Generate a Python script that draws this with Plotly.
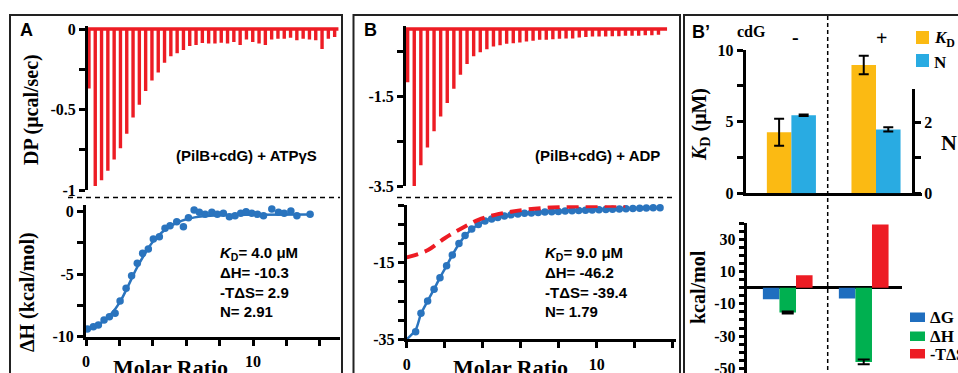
import plotly.graph_objects as go

W, H = 958, 373
def px(x): return x / W
def py(y): return 1 - y / H

SERIF = "Liberation Serif"
SANS = "Liberation Sans"
RED = "#ED1C24"
BLUE = "#2A74BE"
GOLD = "#FBBA13"
LBLUE = "#29ABE2"
DGBLUE = "#1F6EBF"
GREEN = "#00B050"

# ---------------- data ----------------
# Panel A thermogram: peak depths (µcal/sec) per injection
a_peaks = [0.37, 0.975, 0.94, 0.88, 0.81, 0.74, 0.65, 0.55, 0.47, 0.385,
           0.32, 0.27, 0.21, 0.17, 0.15, 0.13, 0.105, 0.10, 0.087, 0.09,
           0.09, 0.085, 0.09, 0.08, 0.10, 0.065, 0.08, 0.09, 0.10, 0.065,
           0.06, 0.06, 0.055, 0.07, 0.06, 0.065, 0.07, 0.125, 0.06, 0.05]
# Panel B thermogram
b_peaks = [1.19, 3.5, 3.04, 2.64, 2.28, 1.95, 1.65, 1.33, 1.02, 0.78,
           0.61, 0.52, 0.45, 0.39, 0.36, 0.33, 0.32, 0.30, 0.28, 0.26,
           0.24, 0.24, 0.23, 0.22, 0.21, 0.21, 0.19, 0.18, 0.17, 0.17,
           0.17, 0.16, 0.16, 0.15, 0.15, 0.15, 0.14, 0.14, 0.13]

# Panel A integrated heats
a_ratio = [0.08, 0.44, 0.74, 1.08, 1.40, 1.74, 2.04, 2.40, 2.73, 3.07,
           3.39, 3.73, 4.03, 4.39, 4.73, 5.03, 5.43, 5.83, 6.13, 6.47,
           6.78, 7.13, 7.53, 7.86, 8.22, 8.58, 8.92, 9.26, 9.58, 9.92,
           10.26, 10.62, 11.12, 11.52, 11.86, 12.26, 12.62, 13.41]
a_dh = [-9.38, -9.2, -9.06, -8.66, -8.4, -8.13, -7.14, -6.13, -5.12, -4.13,
        -3.33, -2.98, -2.18, -2.0, -1.33, -1.12, -0.8, -1.2, -0.48, 0.14,
        -0.05, -0.21, -0.05, -0.21, -0.13, -0.4, -0.32, -0.13, 0.0, -0.13,
        -0.21, -0.32, 0.22, -0.05, -0.13, 0.06, -0.32, -0.21]
a_fit_x = [0, 0.5, 1.0, 1.5, 2.0, 2.5, 3.0, 3.5, 4.0, 4.5, 5.0, 5.5, 6.0, 6.5, 7.0, 8.0, 10.0, 13.4]
a_fit_y = [-9.45, -9.2, -8.8, -8.2, -7.3, -6.0, -4.6, -3.4, -2.4, -1.7, -1.2, -0.85, -0.6, -0.45, -0.36, -0.28, -0.24, -0.22]

# Panel B integrated heats
b_ratio = [0.47, 0.75, 1.10, 1.44, 1.75, 2.10, 2.40, 2.75, 3.07, 3.42,
           3.77, 4.12, 4.47, 4.79, 5.14, 5.49, 5.85, 6.20, 6.56, 6.92,
           7.27, 7.63, 7.98, 8.34, 8.70, 9.05, 9.41, 9.76, 10.12, 10.48,
           10.83, 11.19, 11.54, 11.90, 12.26, 12.61, 12.97, 13.33]
b_dh = [-33.0, -28.2, -25.0, -21.9, -18.9, -15.8, -13.0, -10.0, -7.9, -6.2,
        -5.0, -4.1, -3.6, -3.2, -2.8, -2.5, -2.27, -2.1, -2.0, -1.9,
        -1.75, -1.66, -1.6, -1.5, -1.45, -1.35, -1.28, -1.23, -1.15, -1.1,
        -1.02, -0.97, -0.9, -0.83, -0.79, -0.72, -0.66, -0.62]
b_fit_x = [0, 0.47, 0.75, 1.1, 1.44, 1.75, 2.1, 2.4, 2.75, 3.07, 3.42, 3.77, 4.12, 4.47, 5.0, 6.0, 8.0, 10.0, 12.0, 13.33]
b_fit_y = [-35, -32.5, -28.4, -25, -21.9, -18.9, -15.8, -13, -10.1, -8, -6.3, -5.0, -4.1, -3.5, -2.9, -2.2, -1.5, -1.05, -0.8, -0.62]
ctrl_x = [0, 0.44, 1.12, 2.0, 2.9, 3.77, 4.65, 5.5, 6.4, 7.45, 8.5, 9.5, 10.5, 11.5]
ctrl_y = [-13.6, -13.0, -11.7, -8.6, -6.0, -3.8, -2.5, -1.66, -1.05, -0.6, -0.35, -0.22, -0.15, -0.1]

# Panel B' bars
cdg = ["-", "+"]
kd = [4.26, 8.95]
kd_err = [0.95, 0.65]
n_val = [2.2, 1.80]
n_err = [0.02, 0.06]
dG = [-7.1, -6.7]
dH = [-15.4, -46.0]
dH_err = [0.6, 1.5]
mTdS = [7.7, 39.3]

a_text = ["<i>K</i><sub>D</sub>= 4.0 μM", "ΔH= -10.3", "-TΔS= 2.9", "N= 2.91"]
b_text = ["<i>K</i><sub>D</sub>= 9.0 μM", "ΔH= -46.2", "-TΔS= -39.4", "N= 1.79"]

# ------------- helpers -------------
def thermo(peaks, tail):
    xs, ys = [0.0], [0.0]
    for i, d in enumerate(peaks):
        x = i + 1
        xs += [x, x, x]
        ys += [0.0, -d, 0.0]
    xs.append(len(peaks) + tail)
    ys.append(0.0)
    return xs, ys

fig = go.Figure()

ax, ay = thermo(a_peaks, 0.6)
fig.add_trace(go.Scatter(x=ax, y=ay, mode="lines", line=dict(color=RED, width=3.4),
                         xaxis="x", yaxis="y", showlegend=False))
bx, by = thermo(b_peaks, 1.3)
fig.add_trace(go.Scatter(x=bx, y=by, mode="lines", line=dict(color=RED, width=3.4),
                         xaxis="x3", yaxis="y3", showlegend=False))

fig.add_trace(go.Scatter(x=a_fit_x, y=a_fit_y, mode="lines", line=dict(color=BLUE, width=2.5, shape="spline"),
                         xaxis="x2", yaxis="y2", showlegend=False))
fig.add_trace(go.Scatter(x=a_ratio, y=a_dh, mode="markers", marker=dict(color=BLUE, size=7.5),
                         xaxis="x2", yaxis="y2", showlegend=False, cliponaxis=False))

fig.add_trace(go.Scatter(x=b_fit_x, y=b_fit_y, mode="lines", line=dict(color=BLUE, width=2.5, shape="spline"),
                         xaxis="x4", yaxis="y4", showlegend=False))
fig.add_trace(go.Scatter(x=b_ratio, y=b_dh, mode="markers", marker=dict(color=BLUE, size=7.5),
                         xaxis="x4", yaxis="y4", showlegend=False, cliponaxis=False))
fig.add_trace(go.Scatter(x=ctrl_x, y=ctrl_y, mode="lines",
                         line=dict(color=RED, width=4, dash="12px,7px", shape="spline"),
                         xaxis="x4", yaxis="y4", showlegend=False))

# B' upper bars
bw = 0.29
fig.add_trace(go.Bar(x=cdg, y=kd, width=bw, offset=-bw, marker=dict(color=GOLD, line=dict(width=0)),
                     error_y=dict(type="data", array=kd_err, color="black", thickness=2, width=5),
                     xaxis="x5", yaxis="y5", showlegend=False))
fig.add_trace(go.Bar(x=cdg, y=n_val, width=bw, offset=0, marker=dict(color=LBLUE, line=dict(width=0)),
                     error_y=dict(type="data", array=n_err, color="black", thickness=2, width=5),
                     xaxis="x5", yaxis="y6", showlegend=False))

# B' lower bars
lw = 0.218
fig.add_trace(go.Bar(x=cdg, y=dG, width=lw, offset=-1.5 * lw, marker=dict(color=DGBLUE, line=dict(width=0)),
                     xaxis="x6", yaxis="y7", showlegend=False))
fig.add_trace(go.Bar(x=cdg, y=dH, width=lw, offset=-0.5 * lw, marker=dict(color=GREEN, line=dict(width=0)),
                     error_y=dict(type="data", array=dH_err, color="black", thickness=2, width=6),
                     xaxis="x6", yaxis="y7", showlegend=False))
fig.add_trace(go.Bar(x=cdg, y=mTdS, width=lw, offset=0.5 * lw, marker=dict(color=RED, line=dict(width=0)),
                     xaxis="x6", yaxis="y7", showlegend=False))

tickf = dict(family=SERIF, size=16, color="black", weight="bold")
yax = dict(showline=True, linewidth=3, linecolor="black", ticks="outside", ticklen=6, tickwidth=2.5,
           tickcolor="black", showgrid=False, zeroline=False, tickfont=tickf, automargin=False,
           ticklabeloverflow="allow")
xax = dict(showline=True, linewidth=3, linecolor="black", ticks="outside", ticklen=6, tickwidth=2.5,
           tickcolor="black", showgrid=False, zeroline=False, tickfont=tickf, ticklabelstandoff=2,
           automargin=False, ticklabeloverflow="allow")

fig.update_layout(
    template="none",
    width=W, height=H, margin=dict(l=0, r=0, t=0, b=0, pad=0), autosize=False,
    paper_bgcolor="white", plot_bgcolor="rgba(0,0,0,0)", barmode="overlay",
    xaxis=dict(domain=[px(88), px(340)], range=[0.85, 40.85], visible=False, anchor="y", automargin=False),
    yaxis=dict(**yax, domain=[py(190), py(26)], range=[-1, 3 / 161], anchor="x",
               tickvals=[0, -0.25, -0.5, -0.75, -1], ticktext=["0", "", "-0.5", "", "-1"]),
    xaxis2=dict(**xax, domain=[px(86), px(340)], range=[0, 15.2], anchor="y2",
                tickvals=[0, 2, 4, 6, 8, 10, 12, 14], ticktext=["0", "", "", "", "", "10", "", ""]),
    yaxis2=dict(**yax, domain=[py(336.7), py(205)], range=[-10, 0.54], anchor="x2",
                tickvals=[0, -2.5, -5, -7.5, -10], ticktext=["0", "", "-5", "", "-10"]),
    xaxis3=dict(domain=[px(406), px(672)], range=[0.75, 41.05], visible=False, anchor="y3", automargin=False),
    yaxis3=dict(**yax, domain=[py(186), py(26)], range=[-3.5, 3 / 45], anchor="x3",
                tickvals=[-0.5, -1.5, -2.5, -3.5], ticktext=["", "-1.5", "", "-3.5"]),
    xaxis4=dict(**xax, domain=[px(406.7), px(676)], range=[0, 14.17], anchor="y4",
                tickvals=[0, 2, 4, 6, 8, 10, 12, 14], ticktext=["0", "", "", "", "", "10", "", ""]),
    yaxis4=dict(**yax, domain=[py(339.3), py(205.3)], range=[-35, 0], anchor="x4",
                tickvals=[0, -5, -10, -15, -20, -25, -30, -35],
                ticktext=["", "", "", "-15", "", "", "", "-35"]),
    xaxis5=dict(domain=[px(745.7), px(921.7)], range=[-0.54, 1.54], anchor="y5", type="category",
                categoryorder="array", categoryarray=cdg, showline=True, linewidth=3, linecolor="black",
                ticks="", showticklabels=False, showgrid=False, zeroline=False, automargin=False),
    yaxis5=dict(**yax, domain=[py(193.3), py(50)], range=[0, 10], anchor="x5",
                tickvals=[0, 2.5, 5, 7.5, 10], ticktext=["0", "", "5", "", "10"]),
    yaxis6=dict(**yax, domain=[py(193.3), py(89.3)], range=[0, 2.93], anchor="free",
                position=px(913), side="right",
                tickvals=[0, 1, 2], ticktext=["0", "", "2"]),
    xaxis6=dict(domain=[px(746.7), px(901.7)], range=[-0.54, 1.5], anchor="y7", type="category",
                categoryorder="array", categoryarray=cdg, visible=False, automargin=False),
    yaxis7=dict(showline=True, linewidth=3, linecolor="black", ticks="outside", ticklen=5, tickwidth=2.5,
                tickcolor="black", showgrid=False, tickfont=tickf, automargin=False,
                ticklabeloverflow="allow",
                zeroline=True, zerolinewidth=3, zerolinecolor="black",
                domain=[0, py(223.3)], range=[-52.9, 40], anchor="x6",
                tickvals=list(range(-50, 41, 5)),
                ticktext=[str(v) if v in (30, 10, -10, -30, -50) else "" for v in range(-50, 41, 5)]),
)

shapes = []
# panel borders
for x0, x1 in [(10, 342), (353.5, 680), (684, 962)]:
    shapes.append(dict(type="rect", xref="paper", yref="paper", x0=px(x0), x1=px(x1), y0=py(15), y1=py(390),
                       line=dict(color="#222", width=2), layer="below"))
# dashed separators
shapes.append(dict(type="line", xref="paper", yref="paper", x0=px(68), x1=px(340), y0=py(197.5), y1=py(197.5),
                   line=dict(color="black", width=1.5, dash="5px,4px")))
shapes.append(dict(type="line", xref="paper", yref="paper", x0=px(397), x1=px(672), y0=py(197.5), y1=py(197.5),
                   line=dict(color="black", width=1.5, dash="5px,4px")))
shapes.append(dict(type="line", xref="paper", yref="paper", x0=px(827.7), x1=px(827.7), y0=py(16), y1=0,
                   line=dict(color="black", width=1.5, dash="4px,3px")))
# legend swatches
for (x0, x1, y0, y1, c) in [(916, 929, 31, 44, GOLD), (916, 929, 54, 67, LBLUE),
                             (910, 925, 312.5, 322, DGBLUE), (910, 925, 331.5, 341, GREEN),
                             (910, 925, 349, 358.5, RED)]:
    shapes.append(dict(type="rect", xref="paper", yref="paper", x0=px(x0), x1=px(x1), y0=py(y1), y1=py(y0),
                       fillcolor=c, line=dict(width=0)))
fig.update_layout(shapes=shapes)

anns = []
def ann(text, x, y, size, family=SERIF, xa="center", ya="middle", angle=0, weight="bold"):
    anns.append(dict(text=text, x=px(x), y=py(y), xref="paper", yref="paper", showarrow=False,
                     xanchor=xa, yanchor=ya, textangle=angle,
                     font=dict(family=family, size=size, color="black", weight=weight)))

ann("A", 18, 30, 18, SANS, xa="left")
ann("B", 362, 30, 18, SANS, xa="left")
ann("B’", 690, 32, 18, SANS, xa="left")
ann("cdG", 751, 31, 16)
ann("-", 795, 37, 20)
ann("+", 881, 38, 20)
ann("(PilB+cdG) + ATPγS", 246, 155, 15, SANS)
ann("(PilB+cdG) + ADP", 597, 155, 15, SANS)
for i, t in enumerate(a_text):
    ann(t, 218, 253 + i * 19.6, 15, SANS, xa="left")
for i, t in enumerate(b_text):
    ann(t, 543, 253 + i * 19.6, 15, SANS, xa="left")
ann("DP (μcal/sec)", 32, 109, 20, angle=-90)
ann("ΔH (kcal/mol)", 27, 292, 20, angle=-90)
ann("Molar Ratio", 170, 367, 22)
ann("Molar Ratio", 511, 367, 22)
ann("<i>K</i><sub>D</sub> (μM)", 700, 125, 20, angle=-90)
ann("N", 949, 142, 22, xa="center")
ann("kcal/mol", 698, 287, 20, angle=-90)
ann("<i>K</i><sub>D</sub>", 932, 39, 17, xa="left")
ann("N", 932, 62, 17, xa="left")
ann("ΔG", 928, 317, 17, xa="left")
ann("ΔH", 928, 336.5, 17, xa="left")
ann("-TΔS", 928, 354, 16, xa="left")
fig.update_layout(annotations=anns)

fig.write_html("out.html", config={"displayModeBar": False},
               post_script="document.body.style.margin='0';document.body.style.overflow='hidden';")
